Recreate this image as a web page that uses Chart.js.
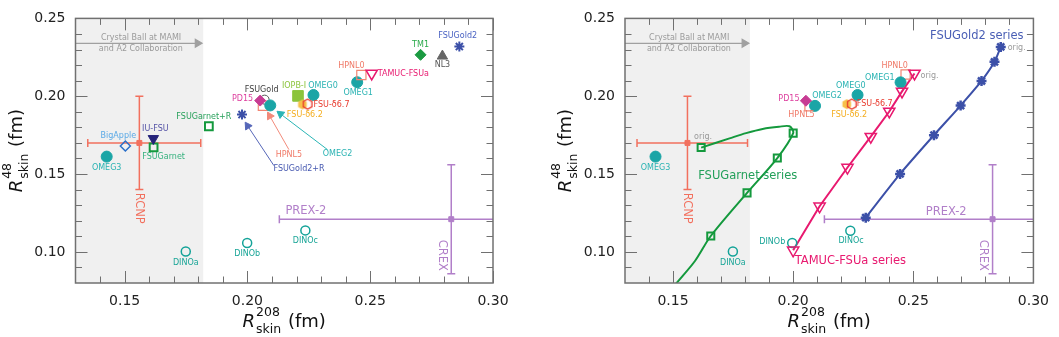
<!DOCTYPE html>
<html>
<head>
<meta charset="utf-8">
<script src="https://cdn.jsdelivr.net/npm/chart.js@4.4.1/dist/chart.umd.min.js"></script>
<style>
  html, body { margin: 0; padding: 0; background: #fff; }
  #wrap { position: relative; width: 1059px; height: 337px; }
  canvas { position: absolute; top: 0; }
  #leftChart { left: 0; }
  #rightChart { left: 530px; }
</style>
</head>
<body>
<div id="wrap">
  <canvas id="leftChart" width="530" height="337"></canvas>
  <canvas id="rightChart" width="529" height="337"></canvas>
</div>
<script>
const FONT = '"DejaVu Sans", sans-serif';

//axes
const xRange = [0.13, 0.30];
const yRange = [0.08, 0.25];
const xMajor = [0.15, 0.20, 0.25, 0.30];
const yMajor = [0.10, 0.15, 0.20, 0.25];
const xMinor = [0.14, 0.16, 0.17, 0.18, 0.19, 0.21, 0.22, 0.23, 0.24, 0.26, 0.27, 0.28, 0.29];
const yMinor = [0.09, 0.11, 0.12, 0.13, 0.14, 0.16, 0.17, 0.18, 0.19, 0.21, 0.22, 0.23, 0.24];

//experiments (lo, central, hi)
const crystalBallEdge = 0.182;
const cbArrowR208 = [0.13, 0.1797];
const cbArrowR48 = [0.234, 0.234];
const rcnpR208 = [0.135, 0.156, 0.181];
const rcnpR48 = [0.140, 0.170, 0.200];
const prexR208 = [0.213, 0.283, 0.353];
const crexR48 = [0.086, 0.121, 0.156];

//left panel models
const leftModels = ['HPNL5', 'FSUGold', 'PD15', 'OMEG2', 'OMEG3', 'BigApple', 'FSUGarnet', 'IU-FSU', 'FSUGarnet+R',
    'FSUGold2+R', 'IOPB-I', 'OMEG0', 'FSU-δ6.2', 'FSU-δ6.7', 'OMEG1', 'HPNL0', 'TAMUC-FSUa', 'TM1', 'NL3',
    'FSUGold2', 'DINOa', 'DINOb', 'DINOc'];
const leftR208 = [0.2063, 0.2070, 0.2052, 0.2093, 0.1427, 0.1503, 0.1618, 0.1617, 0.1843,
    0.1978, 0.2206, 0.2269, 0.2224, 0.2245, 0.2447, 0.2464, 0.2506, 0.2705, 0.2794,
    0.2863, 0.1749, 0.1999, 0.2236];
const leftR48 = [0.1939, 0.1978, 0.1972, 0.1941, 0.1612, 0.1680, 0.1671, 0.1728, 0.1807,
    0.1882, 0.2002, 0.2008, 0.1947, 0.1949, 0.2090, 0.2136, 0.2146, 0.2266, 0.2258,
    0.2319, 0.1002, 0.1057, 0.1138];

//left panel arrows (tail, head)
const gold2RArrowR208 = [0.2108, 0.2001];
const gold2RArrowR48 = [0.1554, 0.1809];
const hpnl5ArrowR208 = [0.2169, 0.2091];
const hpnl5ArrowR48 = [0.1657, 0.1873];
const omeg2ArrowR208 = [0.2326, 0.2135];
const omeg2ArrowR48 = [0.1657, 0.1886];

//right panel models
const rightModels = ['OMEG3', 'DINOa', 'DINOb', 'DINOc', 'HPNL5', 'PD15', 'OMEG2', 'OMEG0', 'FSU-δ6.2', 'FSU-δ6.7',
    'HPNL0', 'OMEG1'];
const rightR208 = [0.1427, 0.1749, 0.1996, 0.2238, 0.2068, 0.2053, 0.2091, 0.2268, 0.2223, 0.2244, 0.2468, 0.2447];
const rightR48 = [0.1612, 0.1002, 0.1057, 0.1136, 0.1936, 0.1971, 0.1938, 0.2008, 0.1949, 0.1949, 0.2140, 0.2089];

//parameter series (first point = original model)
const garnetR208 = [0.1617, 0.2000, 0.1934, 0.1808, 0.1657];
const garnetR48 = [0.1670, 0.1763, 0.1603, 0.1379, 0.1102];
const garnetCurveR208 = [0.1617, 0.1735, 0.1804, 0.1873, 0.1941, 0.1985, 0.2000, 0.1934, 0.1808, 0.1657, 0.1592, 0.1515, 0.1500];
const garnetCurveR48 = [0.1670, 0.1729, 0.1763, 0.1790, 0.1804, 0.1807, 0.1763, 0.1603, 0.1379, 0.1102, 0.0943, 0.0800, 0.0770];
const tamucR208 = [0.2505, 0.2453, 0.2400, 0.2323, 0.2226, 0.2110, 0.2000];
const tamucR48 = [0.2146, 0.2031, 0.1902, 0.1740, 0.1542, 0.1293, 0.1010];
const gold2R208 = [0.2864, 0.2838, 0.2784, 0.2697, 0.2586, 0.2445, 0.2302];
const gold2R48 = [0.2317, 0.2221, 0.2098, 0.1940, 0.1750, 0.1501, 0.1220];

//colours
const teal = '#1aa5a6';
const salmon = '#f2705e';
const purple = '#b17fc9';
const green = '#14993d';
const pink = '#e8196f';
const blue = '#3c50a8';

//marker styles: shape, colour, filled, radius, line width, rotation
const markerStyle = {
    'OMEG0': ['circle', teal, true, 5.5],
    'OMEG1': ['circle', teal, true, 5.5],
    'OMEG2': ['circle', teal, true, 5.5],
    'OMEG3': ['circle', teal, true, 5.5],
    'DINOa': ['circle', '#13a398', false, 4.5, 1.5],
    'DINOb': ['circle', '#13a398', false, 4.5, 1.5],
    'DINOc': ['circle', '#13a398', false, 4.5, 1.5],
    'BigApple': ['rectRot', '#2a6fc9', false, 5, 1.5],
    'IU-FSU': ['triangle', '#25237a', true, 6, 1, 180],
    'FSUGarnet': ['rect', green, false, 5.5, 2],
    'FSUGarnet+R': ['rect', green, false, 5.5, 2],
    'FSUGold2+R': ['star', blue, false, 5, 2],
    'FSUGold': ['circle', '#555555', false, 4.5, 1],
    'HPNL5': ['rect', '#f28572', false, 6.5, 1.2],
    'HPNL0': ['rect', '#f28572', false, 6.5, 1.2],
    'PD15': ['rectRot', '#c73b93', true, 5.5],
    'IOPB-I': ['rect', '#8cc43c', true, 7.5],
    'FSU-δ6.2': ['hex', '#f7c04a', true, 5],
    'FSU-δ6.7': ['hex', '#e8392c', false, 5, 1.3],
    'TAMUC-FSUa': ['triangle', pink, false, 6.5, 1.5, 180],
    'TM1': ['rectRot', '#1b9a41', true, 5.5],
    'NL3': ['triangle', '#666666', true, 6],
    'FSUGold2': ['star', blue, false, 5, 2]
};

//label placement: dx, dy (px), align, colour
const omegText = '#2ab3b3';
const dinoText = '#19a597';
const leftLabelLayout = {
    'OMEG3': [0, 11.5, 'center', omegText],
    'BigApple': [-7, -10, 'center', '#5aa9e6'],
    'IU-FSU': [2, -9.5, 'center', '#5553a6'],
    'FSUGarnet': [10, 9.5, 'center', '#34b07d'],
    'FSUGarnet+R': [-5, -9.5, 'center', '#27a05a'],
    'FSUGold': [-3, -9.5, 'center', '#3d3d3d'],
    'PD15': [-7, -2, 'right', '#dd3e9e'],
    'IOPB-I': [-4, -10, 'center', '#8cc43c'],
    'OMEG0': [9.5, -9.3, 'center', omegText],
    'FSU-δ6.2': [2.4, 10.7, 'center', '#f4ad1f'],
    'FSU-δ6.7': [6, 1, 'left', '#e8392c'],
    'OMEG1': [1, 11, 'center', omegText],
    'HPNL0': [-10, -9.5, 'center', '#f07a68'],
    'TAMUC-FSUa': [6, 0, 'left', pink],
    'TM1': [0, -9.5, 'center', '#2aaa4a'],
    'NL3': [0, 9, 'center', '#555555'],
    'FSUGold2': [-1.7, -10.3, 'center', '#4a62c2'],
    'DINOa': [0, 11.5, 'center', dinoText],
    'DINOb': [0, 10.5, 'center', dinoText],
    'DINOc': [0, 10.5, 'center', dinoText]
};
const rightLabelLayout = {
    'OMEG3': [0, 11.5, 'center', omegText],
    'DINOa': [0, 11.5, 'center', dinoText],
    'DINOb': [-7, -1, 'right', dinoText],
    'DINOc': [0.7, 10.7, 'center', dinoText],
    'PD15': [-6.4, -2, 'right', '#dd3e9e'],
    'HPNL5': [-8, 9, 'center', '#f07a68'],
    'OMEG2': [12, -10, 'center', omegText],
    'OMEG0': [-6.8, -9, 'center', omegText],
    'FSU-δ6.2': [2.4, 11, 'center', '#f4ad1f'],
    'FSU-δ6.7': [5, 0, 'left', '#e8392c'],
    'OMEG1': [-6, -4, 'right', omegText],
    'HPNL0': [-11, -8.5, 'center', '#f07a68']
};

//free annotations
const commonNotes = [
    {text: 'Crystal Ball at MAMI', x: 0.1567, y: 0.2373, color: '#9a9a9a', size: 8},
    {text: 'and A2 Collaboration', x: 0.1566, y: 0.2304, color: '#9a9a9a', size: 8},
    {text: 'RCNP', x: 0.1558, y: 0.128, color: salmon, size: 11.5, rot: 90},
    {text: 'CREX', x: 0.2791, y: 0.0978, color: purple, size: 11.5, rot: 90}
];
const leftNotes = [
    {text: 'PREX-2', x: 0.2238, y: 0.1262, color: purple, size: 11.5},
    {text: 'FSUGold2+R', x: 0.2210, y: 0.1530, color: '#4658b0', size: 8},
    {text: 'HPNL5', x: 0.2169, y: 0.1620, color: '#f07a68', size: 8},
    {text: 'OMEG2', x: 0.2367, y: 0.1632, color: omegText, size: 8}
];
const rightNotes = [
    {text: 'PREX-2', x: 0.2637, y: 0.1259, color: purple, size: 11.5},
    {text: 'orig.', x: 0.1625, y: 0.1738, color: '#9a9a9a', size: 8},
    {text: 'orig.', x: 0.2530, y: 0.2131, color: '#9a9a9a', size: 8, align: 'left'},
    {text: 'orig.', x: 0.2893, y: 0.2312, color: '#9a9a9a', size: 8, align: 'left'},
    {text: 'FSUGold2 series', x: 0.2959, y: 0.2390, color: '#4a5fb5', size: 11.5, align: 'right'},
    {text: 'FSUGarnet series', x: 0.1811, y: 0.1490, color: '#23a05a', size: 11.5},
    {text: 'TAMUC-FSUa series', x: 0.2238, y: 0.0939, color: pink, size: 11.5}
];

function hexagon(r, color, filled, lw) {
    const size = Math.ceil(2 * r + 4);
    const c = document.createElement('canvas');
    c.width = size;
    c.height = size;
    const g = c.getContext('2d');
    g.beginPath();
    for (let i = 0; i < 6; i++) {
        const a = -Math.PI / 2 + i * Math.PI / 3;
        const px = size / 2 + r * Math.cos(a);
        const py = size / 2 + r * Math.sin(a);
        if (i === 0) g.moveTo(px, py); else g.lineTo(px, py);
    }
    g.closePath();
    if (filled) {
        g.fillStyle = color;
        g.fill();
    } else {
        g.strokeStyle = color;
        g.lineWidth = lw || 1;
        g.stroke();
    }
    return c;
}

function pts(xs, ys) {
    return xs.map((v, i) => ({x: v, y: ys[i]}));
}

function modelDataset(name, x, y) {
    const [shape, color, filled, r, lw, rot] = markerStyle[name];
    return {
        label: name,
        data: [{x, y}],
        pointStyle: shape === 'hex' ? hexagon(r, color, filled, lw) : shape,
        pointRotation: rot || 0,
        pointRadius: r,
        pointHoverRadius: r,
        pointBorderColor: color,
        pointBackgroundColor: filled ? color : 'rgba(0,0,0,0)',
        pointBorderWidth: lw || 1
    };
}

function lineDataset(xs, ys, color, width, tension) {
    return {
        data: pts(xs, ys),
        showLine: true,
        borderColor: color,
        borderWidth: width,
        tension: tension || 0,
        pointRadius: 0,
        pointHoverRadius: 0
    };
}

function markerSeries(xs, ys, shape, color, r, lw, rot) {
    return {
        data: pts(xs, ys),
        pointStyle: shape,
        pointRotation: rot || 0,
        pointRadius: r,
        pointHoverRadius: r,
        pointBorderColor: color,
        pointBackgroundColor: 'rgba(0,0,0,0)',
        pointBorderWidth: lw
    };
}

function arrowRotation(xs, ys) {
    return ctx => {
        const sx = ctx.chart.scales.x, sy = ctx.chart.scales.y;
        const dx = sx.getPixelForValue(xs[1]) - sx.getPixelForValue(xs[0]);
        const dy = sy.getPixelForValue(ys[1]) - sy.getPixelForValue(ys[0]);
        return Math.atan2(dx, -dy) * 180 / Math.PI;
    };
}

function arrowDataset(xs, ys, color, head) {
    return {
        data: pts(xs, ys),
        showLine: true,
        borderColor: color,
        borderWidth: 1,
        pointRadius: [0, head],
        pointHoverRadius: [0, head],
        pointStyle: 'triangle',
        pointRotation: arrowRotation(xs, ys),
        pointBorderColor: color,
        pointBackgroundColor: color,
        pointBorderWidth: 1
    };
}

//horizontal + vertical error bars with caps and a central square
function errorBars(xs, ys, color) {
    const sets = [];
    if (xs.length === 3) {
        sets.push({
            data: [{x: xs[0], y: ys[1]}, {x: xs[2], y: ys[1]}],
            showLine: true, borderColor: color, borderWidth: 1.5,
            pointStyle: 'line', pointRotation: 90, pointRadius: 4, pointHoverRadius: 4,
            pointBorderColor: color, pointBorderWidth: 1.5
        });
    }
    if (ys.length === 3) {
        sets.push({
            data: [{x: xs[1], y: ys[0]}, {x: xs[1], y: ys[2]}],
            showLine: true, borderColor: color, borderWidth: 1.5,
            pointStyle: 'line', pointRotation: 0, pointRadius: 4, pointHoverRadius: 4,
            pointBorderColor: color, pointBorderWidth: 1.5
        });
    }
    sets.push({
        data: [{x: xs[1], y: ys[1]}],
        pointStyle: 'rect', pointRadius: 3.5, pointHoverRadius: 3.5,
        pointBorderColor: color, pointBackgroundColor: color, pointBorderWidth: 1
    });
    return sets;
}

function crystalBallArrow() {
    return {
        data: pts(cbArrowR208, cbArrowR48),
        showLine: true,
        borderColor: '#a0a0a0',
        borderWidth: 1.2,
        pointRadius: [0, 4.5],
        pointHoverRadius: [0, 4.5],
        pointStyle: 'triangle',
        pointRotation: 90,
        pointBorderColor: '#a0a0a0',
        pointBackgroundColor: '#a0a0a0'
    };
}

function labelItems(names, xs, ys, layout) {
    const out = [];
    names.forEach((n, i) => {
        const l = layout[n];
        if (!l) return;
        out.push({text: n, x: xs[i], y: ys[i], dx: l[0], dy: l[1], align: l[2], color: l[3], size: 8});
    });
    return out;
}

//shaded Crystal Ball region
const shadePlugin = {
    id: 'shade',
    beforeDatasetsDraw(chart) {
        const {ctx, chartArea: a, scales: {x}} = chart;
        ctx.save();
        ctx.fillStyle = '#f0f0f0';
        ctx.fillRect(a.left, a.top, x.getPixelForValue(crystalBallEdge) - a.left, a.bottom - a.top);
        ctx.restore();
    }
};

//frame and inward ticks on all four sides
const framePlugin = {
    id: 'frame',
    afterDatasetsDraw(chart) {
        const {ctx, chartArea: a, scales: {x, y}} = chart;
        ctx.save();
        ctx.strokeStyle = '#707070';
        ctx.lineWidth = 1;
        ctx.beginPath();
        const xt = (vals, len) => vals.forEach(v => {
            const px = Math.round(x.getPixelForValue(v)) + 0.5;
            ctx.moveTo(px, a.bottom); ctx.lineTo(px, a.bottom - len);
            ctx.moveTo(px, a.top); ctx.lineTo(px, a.top + len);
        });
        const yt = (vals, len) => vals.forEach(v => {
            const py = Math.round(y.getPixelForValue(v)) + 0.5;
            ctx.moveTo(a.left, py); ctx.lineTo(a.left + len, py);
            ctx.moveTo(a.right, py); ctx.lineTo(a.right - len, py);
        });
        xt(xMajor, 12); xt(xMinor, 6.5);
        yt(yMajor, 12); yt(yMinor, 6.5);
        ctx.stroke();
        ctx.lineWidth = 1.5;
        ctx.strokeRect(a.left, a.top, a.right - a.left, a.bottom - a.top);
        ctx.restore();
    }
};

const textPlugin = {
    id: 'texts',
    afterDatasetsDraw(chart, args, opts) {
        const {ctx, scales: {x, y}} = chart;
        ctx.save();
        opts.items.forEach(t => {
            const px = x.getPixelForValue(t.x) + (t.dx || 0);
            const py = y.getPixelForValue(t.y) + (t.dy || 0);
            ctx.save();
            ctx.translate(px, py);
            if (t.rot) ctx.rotate(t.rot * Math.PI / 180);
            ctx.font = `${t.size}px ${FONT}`;
            ctx.fillStyle = t.color;
            ctx.textAlign = t.align || 'center';
            ctx.textBaseline = 'middle';
            ctx.fillText(t.text, 0, 0);
            ctx.restore();
        });
        ctx.restore();
    }
};

function drawSkinTitle(ctx, cx, cy, sup, vertical) {
    ctx.save();
    ctx.translate(cx, cy);
    if (vertical) ctx.rotate(-Math.PI / 2);
    ctx.fillStyle = '#111';
    ctx.textBaseline = 'alphabetic';
    ctx.textAlign = 'left';
    const big = 18, small = 12.5;
    ctx.font = `italic ${big}px ${FONT}`;
    const wR = ctx.measureText('R').width;
    ctx.font = `${small}px ${FONT}`;
    const wS = Math.max(ctx.measureText(sup).width, ctx.measureText('skin').width);
    ctx.font = `${big}px ${FONT}`;
    const wU = ctx.measureText(' (fm)').width;
    let px = -(wR + wS + wU + 2) / 2;
    ctx.font = `italic ${big}px ${FONT}`;
    ctx.fillText('R', px, 0);
    px += wR + 1;
    ctx.font = `${small}px ${FONT}`;
    ctx.fillText(sup, px, -11);
    ctx.fillText('skin', px, 6);
    px += wS + 1;
    ctx.font = `${big}px ${FONT}`;
    ctx.fillText(' (fm)', px, 0);
    ctx.restore();
}

const titlePlugin = {
    id: 'titles',
    afterDraw(chart) {
        const {ctx, chartArea: a} = chart;
        drawSkinTitle(ctx, (a.left + a.right) / 2, 327, '208', false);
        drawSkinTitle(ctx, a.left - 54, (a.top + a.bottom) / 2, '48', true);
    }
};

function scaleOptions(yWidth) {
    const tickFont = {family: 'DejaVu Sans', size: 14};
    return {
        x: {
            type: 'linear', min: xRange[0], max: xRange[1],
            grid: {display: false, drawTicks: false},
            border: {display: false},
            afterBuildTicks: s => { s.ticks = xMajor.map(v => ({value: v})); },
            afterFit: s => { s.height = 54; },
            ticks: {autoSkip: false, maxRotation: 0, padding: 10, color: '#222', font: tickFont,
                callback: v => v.toFixed(2)}
        },
        y: {
            type: 'linear', min: yRange[0], max: yRange[1],
            grid: {display: false, drawTicks: false},
            border: {display: false},
            afterBuildTicks: s => { s.ticks = yMajor.map(v => ({value: v})); },
            afterFit: s => { s.width = yWidth; },
            ticks: {autoSkip: false, padding: 10, color: '#222', font: tickFont,
                callback: v => v.toFixed(2)}
        }
    };
}

function makeChart(id, datasets, items, yWidth, rightPad) {
    //first dataset is drawn on top, so reverse the bottom-to-top list
    return new Chart(document.getElementById(id), {
        type: 'scatter',
        data: {datasets: datasets.slice().reverse()},
        options: {
            responsive: false,
            animation: false,
            events: [],
            devicePixelRatio: 1,
            layout: {padding: {top: 5, right: rightPad, bottom: 0, left: 0}},
            plugins: {
                legend: {display: false},
                tooltip: {enabled: false},
                texts: {items: items}
            },
            scales: scaleOptions(yWidth)
        },
        plugins: [shadePlugin, framePlugin, textPlugin, titlePlugin]
    });
}

//left panel
const leftSets = [
    crystalBallArrow(),
    ...errorBars(prexR208, crexR48, purple),
    ...errorBars(rcnpR208, rcnpR48, salmon),
    arrowDataset(gold2RArrowR208, gold2RArrowR48, '#5566b8', 4.5),
    arrowDataset(hpnl5ArrowR208, hpnl5ArrowR48, '#f28a7a', 4.5),
    arrowDataset(omeg2ArrowR208, omeg2ArrowR48, '#2ab5b5', 4.5),
    ...leftModels.map((n, i) => modelDataset(n, leftR208[i], leftR48[i]))
];
const leftItems = [...commonNotes, ...leftNotes, ...labelItems(leftModels, leftR208, leftR48, leftLabelLayout)];
makeChart('leftChart', leftSets, leftItems, 75.5, 37);

//right panel
const rightSets = [
    crystalBallArrow(),
    ...errorBars(prexR208, crexR48, purple),
    ...errorBars(rcnpR208, rcnpR48, salmon),
    lineDataset(garnetCurveR208, garnetCurveR48, green, 2, 0.3),
    lineDataset(tamucR208, tamucR48, pink, 2, 0),
    lineDataset(gold2R208, gold2R48, blue, 2, 0.2),
    ...rightModels.map((n, i) => modelDataset(n, rightR208[i], rightR48[i])),
    markerSeries(garnetR208, garnetR48, 'rect', green, 5, 2),
    markerSeries(tamucR208, tamucR48, 'triangle', pink, 6.5, 1.5, 180),
    markerSeries(gold2R208, gold2R48, 'star', blue, 5, 2.5)
];
const rightItems = [...commonNotes, ...rightNotes, ...labelItems(rightModels, rightR208, rightR48, rightLabelLayout)];
makeChart('rightChart', rightSets, rightItems, 95, 16);
</script>
</body>
</html>
